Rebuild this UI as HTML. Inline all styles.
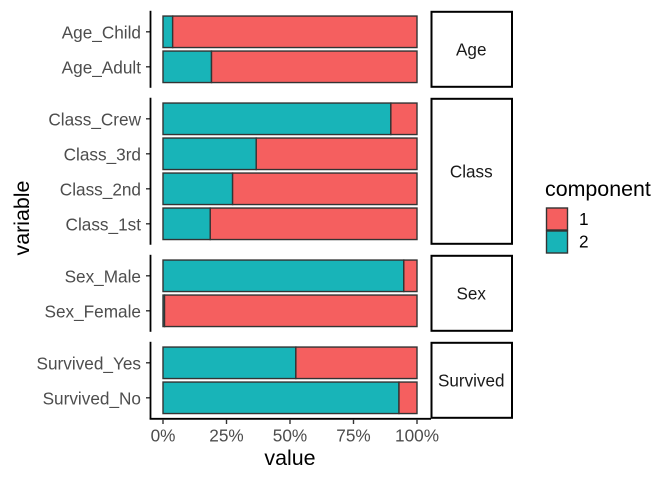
<!DOCTYPE html>
<html>
<head>
<meta charset="utf-8">
<title>Stacked component chart</title>
<style>
html,body{margin:0;padding:0;background:#fff;}
svg{display:block;font-family:"Liberation Sans",Arial,sans-serif;}
</style>
</head>
<body>
<svg id="chart" xmlns="http://www.w3.org/2000/svg" width="672" height="480" viewBox="0 0 672 480">
  <rect x="0" y="0" width="672" height="480" fill="#ffffff"/>
  <g id="plot"></g>
  <text x="290" y="465" font-size="21.4" text-anchor="middle" fill="#000">value</text>
  <text transform="translate(29 218) rotate(-90)" font-size="21.4" text-anchor="middle" fill="#000">variable</text>
  <g>
    <text x="545" y="196" font-size="21.4" fill="#000">component</text>
    <rect x="546.5" y="208" width="21" height="22" fill="#F55F5F" stroke="#333" stroke-width="1.4"/>
    <rect x="546.5" y="231" width="21" height="22" fill="#18B4B8" stroke="#333" stroke-width="1.4"/>
    <text x="579" y="225" font-size="17.2" fill="#000">1</text>
    <text x="579" y="247.500" font-size="17.2" fill="#000">2</text>
  </g>
</svg>
<script>
const panelNames = ["Age", "Class", "Sex", "Survived"];
const panelVariables = [
  ["Age_Child", "Age_Adult"],
  ["Class_Crew", "Class_3rd", "Class_2nd", "Class_1st"],
  ["Sex_Male", "Sex_Female"],
  ["Survived_Yes", "Survived_No"]
];
const component2Values = [
  [3.8, 19.1],
  [89.7, 36.7, 27.4, 18.6],
  [94.8, 0.6],
  [52.3, 92.9]
];
const component1Values = [
  [96.2, 80.9],
  [10.3, 63.3, 72.6, 81.4],
  [5.2, 99.4],
  [47.7, 7.1]
];
const xTickValues = [0, 25, 50, 75, 100];
const xTickLabels = ["0%", "25%", "50%", "75%", "100%"];

const NS = "http://www.w3.org/2000/svg";
const plot = document.getElementById("plot");
const COLOR_1 = "#F55F5F", COLOR_2 = "#18B4B8";
const STEP = 35, BAR_H = 31.5, PANEL_PAD = 21, PANEL_GAP = 10;
const PLOT_TOP = 10.8, AXIS_X = 150.5, STRIP_L = 431.5, STRIP_R = 512;

function xScale(v) { return 163 + v * 2.54; }
function make(tag, attrs, parent) {
  const el = document.createElementNS(NS, tag);
  for (const k in attrs) el.setAttribute(k, attrs[k]);
  (parent || plot).appendChild(el);
  return el;
}

let panelTop = PLOT_TOP;
panelNames.forEach(function (panel, p) {
  const vars = panelVariables[p];
  const panelH = (vars.length - 1) * STEP + 2 * PANEL_PAD;
  const g = make("g", {});
  
  

  vars.forEach(function (name, i) {
    const cy = panelTop + PANEL_PAD + i * STEP;
    const v2 = component2Values[p][i];
    const v1 = component1Values[p][i];

    const seg2 = make("rect", {
      x: xScale(0), y: cy - BAR_H / 2,
      width: xScale(v2) - xScale(0), height: BAR_H,
      fill: COLOR_2, stroke: "#333", "stroke-width": 1.4
    }, g);
    
    

    const seg1 = make("rect", {
      x: xScale(v2), y: cy - BAR_H / 2,
      width: xScale(v2 + v1) - xScale(v2), height: BAR_H,
      fill: COLOR_1, stroke: "#333", "stroke-width": 1.4
    }, g);
    
    

    const tick = make("line", {
      x1: AXIS_X - 4.5, x2: AXIS_X, y1: cy, y2: cy,
      stroke: "#333", "stroke-width": 1.4
    }, g);
    
    

    const label = make("text", {
      x: 141, y: cy + 6.5, "text-anchor": "end",
      "font-size": 17.2, fill: "#4D4D4D"
    }, g);
    label.textContent = name;
    
    
  });

  const axis = make("line", {
    x1: AXIS_X, x2: AXIS_X, y1: panelTop, y2: panelTop + panelH,
    stroke: "#000", "stroke-width": 1.8
  }, g);
  
  

  const strip = make("rect", {
    x: STRIP_L, y: panelTop + 1,
    width: STRIP_R - STRIP_L, height: panelH - 2,
    fill: "#fff", stroke: "#000", "stroke-width": 2
  }, g);
  
  

  const stripText = make("text", {
    x: (STRIP_L + STRIP_R) / 2 - 0.5, y: panelTop + panelH / 2 + 6.2,
    "text-anchor": "middle", "font-size": 17.1, fill: "#1A1A1A"
  }, g);
  stripText.textContent = panel;
  
  

  panelTop += panelH + PANEL_GAP;
});

const xAxis = make("line", {
  x1: 149.6, x2: 431, y1: 418.8, y2: 418.8,
  stroke: "#000", "stroke-width": 1.8
});



xTickValues.forEach(function (v, i) {
  const tick = make("line", {
    x1: xScale(v), x2: xScale(v), y1: 419, y2: 424,
    stroke: "#333", "stroke-width": 1.4
  });
  
  

  const label = make("text", {
    x: xScale(v), y: 441.5, "text-anchor": "middle",
    "font-size": 17.2, fill: "#4D4D4D"
  });
  label.textContent = xTickLabels[i];
  
  
});
</script>
</body>
</html>
